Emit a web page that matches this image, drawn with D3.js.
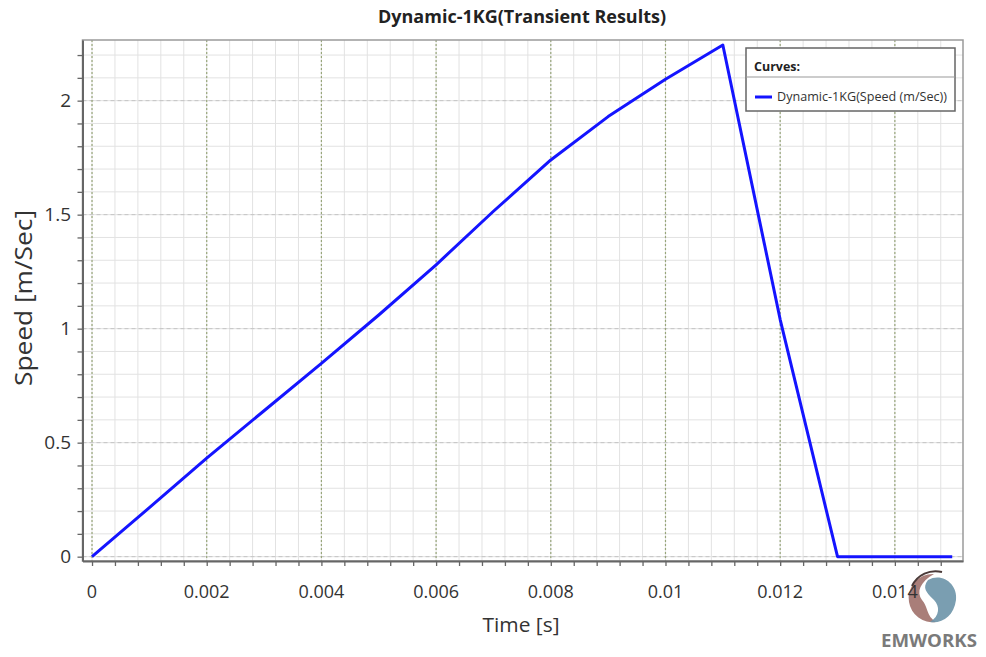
<!DOCTYPE html>
<html>
<head>
<meta charset="utf-8">
<script src="https://cdn.jsdelivr.net/npm/d3@7"></script>
<style>
  body { margin: 0; background: #fff; }
  text { font-family: "Open Sans", "Noto Sans", sans-serif; }
</style>
</head>
<body>
<div id="chart"></div>
<script>
/* Speed vs time, transient result */

const time  = [0, 0.001, 0.002, 0.003, 0.004, 0.005, 0.006, 0.007, 0.008, 0.009, 0.010, 0.011, 0.012, 0.013, 0.014, 0.015];
const speed = [0, 0.215, 0.432, 0.640, 0.848, 1.060, 1.280, 1.515, 1.740, 1.930, 2.094, 2.244, 1.040, 0, 0, 0];
const xMajor = [0, 0.002, 0.004, 0.006, 0.008, 0.01, 0.012, 0.014];
const xLabels = ["0", "0.002", "0.004", "0.006", "0.008", "0.01", "0.012", "0.014"];
const yMajor = [0, 0.5, 1, 1.5, 2];
const yLabels = ["0", "0.5", "1", "1.5", "2"];
const seriesName = "Dynamic-1KG(Speed (m/Sec))";

const data = time.map((t, i) => ({t: t, v: speed[i]}));

const width = 986, height = 657,
    margin = ({top: 40, right: 23, bottom: 96, left: 82.5});   // plot box 82.5..963, 40..561

let svg = d3.select("#chart")
    .append("svg")
    .attr("width", width)
    .attr("height", height);

let x = d3.scaleLinear()
    .domain([-0.000166, 0.015188])
    .range([margin.left, width - margin.right]);

let y = d3.scaleLinear()
    .domain([-0.019, 2.266])
    .range([height - margin.bottom, margin.top]);

const xMinor = d3.range(0, 38.5).map(i => i * 0.0004).filter(v => v <= x.domain()[1]);
const yMinor = d3.range(0, 23).map(i => i * 0.1).filter(v => v <= y.domain()[1]);

// EMWORKS logo (sits behind the tick labels)
let logo = svg.append("g").attr("transform", "translate(932,598)");
logo.append("path")   // brown half
    .attr("d", "M 2,-24 A 24,24 0 0 0 -23,4 A 24,24 0 0 0 4,24 C -6,18 -4,8 -10,2 C -16,-6 -12,-16 2,-24 Z")
    .attr("fill", "#a0706a").attr("opacity", 0.9);
logo.append("path")   // blue half
    .attr("d", "M -4,-18 C 10,-26 26,-14 24,2 C 22,18 10,26 -2,24 C 8,18 8,8 2,2 C -6,-6 -10,-10 -4,-18 Z")
    .attr("fill", "#6b93a8").attr("opacity", 0.9);
logo.append("path")   // dark arc
    .attr("d", "M 10,-26 A 26,26 0 0 0 -20,-12")
    .attr("fill", "none").attr("stroke", "#4a3a38").attr("stroke-width", 2);
svg.append("text")
    .attr("x", 929).attr("y", 647)
    .attr("text-anchor", "middle")
    .attr("font-size", 17).attr("font-weight", "bold")
    .attr("font-family", "'DejaVu Sans', sans-serif")
    .attr("fill", "#7a7a7a")
    .attr("textLength", 96).attr("lengthAdjust", "spacingAndGlyphs")
    .text("EMWORKS");

// minor grid
svg.append("g")
    .selectAll("line")
    .data(xMinor)
    .join("line")
    .attr("x1", d => x(d)).attr("x2", d => x(d))
    .attr("y1", margin.top).attr("y2", height - margin.bottom)
    .attr("stroke", "#e2e2e2").attr("stroke-width", 1);

svg.append("g")
    .selectAll("line")
    .data(yMinor)
    .join("line")
    .attr("x1", margin.left).attr("x2", width - margin.right)
    .attr("y1", d => y(d)).attr("y2", d => y(d))
    .attr("stroke", "#e2e2e2").attr("stroke-width", 1);

// major grid
svg.append("g")
    .selectAll("line")
    .data(yMajor)
    .join("line")
    .attr("x1", margin.left).attr("x2", width - margin.right)
    .attr("y1", d => y(d)).attr("y2", d => y(d))
    .attr("stroke", "#c4c4c4").attr("stroke-width", 1)
    .attr("stroke-dasharray", "4,3");

svg.append("g")
    .selectAll("line")
    .data(xMajor)
    .join("line")
    .attr("x1", d => x(d)).attr("x2", d => x(d))
    .attr("y1", margin.top).attr("y2", height - margin.bottom)
    .attr("stroke", "#98a67a").attr("stroke-width", 1.2)
    .attr("stroke-dasharray", "2,2");

// plot frame
svg.append("rect")
    .attr("x", margin.left).attr("y", margin.top)
    .attr("width", width - margin.right - margin.left)
    .attr("height", height - margin.bottom - margin.top)
    .attr("fill", "none")
    .attr("stroke", "#9a9a9a").attr("stroke-width", 1.5);

// axes
const xAxis = g => g
    .attr("transform", `translate(0,${height - margin.bottom})`)
    .call(d3.axisBottom(x).tickValues(xMinor).tickFormat("").tickSize(5).tickSizeOuter(0));

const yAxis = g => g
    .attr("transform", `translate(${margin.left},0)`)
    .call(d3.axisLeft(y).tickValues(yMinor).tickFormat("").tickSize(5).tickSizeOuter(0));

svg.append("g").call(xAxis)
    .call(g => g.select(".domain").attr("stroke", "#666").attr("stroke-width", 2))
    .call(g => g.selectAll(".tick line").attr("stroke", "#666").attr("stroke-width", 1.3));

svg.append("g").call(yAxis)
    .call(g => g.select(".domain").attr("stroke", "#666").attr("stroke-width", 2))
    .call(g => g.selectAll(".tick line").attr("stroke", "#666").attr("stroke-width", 1.3));

// tick labels
svg.append("g")
    .selectAll("text")
    .data(xMajor)
    .join("text")
    .attr("x", d => x(d))
    .attr("y", 598)
    .attr("text-anchor", "middle")
    .attr("font-size", 18)
    .attr("fill", "#333")
    .text((d, i) => xLabels[i]);

svg.append("g")
    .selectAll("text")
    .data(yMajor)
    .join("text")
    .attr("x", 71)
    .attr("y", d => y(d))
    .attr("dy", "0.35em")
    .attr("text-anchor", "end")
    .attr("font-size", 19)
    .attr("fill", "#333")
    .text((d, i) => yLabels[i]);

// series
svg.append("path")
    .datum(data)
    .attr("fill", "none")
    .attr("stroke", "#1414ff")
    .attr("stroke-width", 3)
    .attr("stroke-linejoin", "round")
    .attr("d", d3.line().x(d => x(d.t)).y(d => y(d.v)));

// titles
svg.append("text")
    .attr("x", 522).attr("y", 23)
    .attr("text-anchor", "middle")
    .attr("font-size", 17).attr("font-weight", "bold")
    .attr("fill", "#222")
    .attr("textLength", 288).attr("lengthAdjust", "spacingAndGlyphs")
    .text("Dynamic-1KG(Transient Results)");

svg.append("text")
    .attr("x", 521).attr("y", 632)
    .attr("text-anchor", "middle")
    .attr("font-size", 20)
    .attr("fill", "#333")
    .attr("textLength", 77).attr("lengthAdjust", "spacingAndGlyphs")
    .text("Time [s]");

svg.append("text")
    .attr("transform", "translate(32,298) rotate(-90)")
    .attr("text-anchor", "middle")
    .attr("font-size", 23)
    .attr("fill", "#333")
    .attr("textLength", 176).attr("lengthAdjust", "spacingAndGlyphs")
    .text("Speed [m/Sec]");

// legend
let legend = svg.append("g").attr("transform", "translate(746,48)");
legend.append("rect")
    .attr("width", 209).attr("height", 63)
    .attr("fill", "#fff")
    .attr("stroke", "#666").attr("stroke-width", 1.5);
legend.append("line")
    .attr("x1", 0).attr("x2", 209).attr("y1", 29).attr("y2", 29)
    .attr("stroke", "#999").attr("stroke-width", 1);
legend.append("text")
    .attr("x", 8).attr("y", 23)
    .attr("font-size", 11.5).attr("font-weight", "bold")
    .attr("fill", "#222")
    .attr("textLength", 46).attr("lengthAdjust", "spacingAndGlyphs")
    .text("Curves:");
legend.append("line")
    .attr("x1", 9).attr("x2", 26).attr("y1", 49).attr("y2", 49)
    .attr("stroke", "#1414ff").attr("stroke-width", 3);
legend.append("text")
    .attr("x", 31).attr("y", 53)
    .attr("font-size", 12)
    .attr("fill", "#333")
    .attr("textLength", 170).attr("lengthAdjust", "spacingAndGlyphs")
    .text(seriesName);
</script>
</body>
</html>
